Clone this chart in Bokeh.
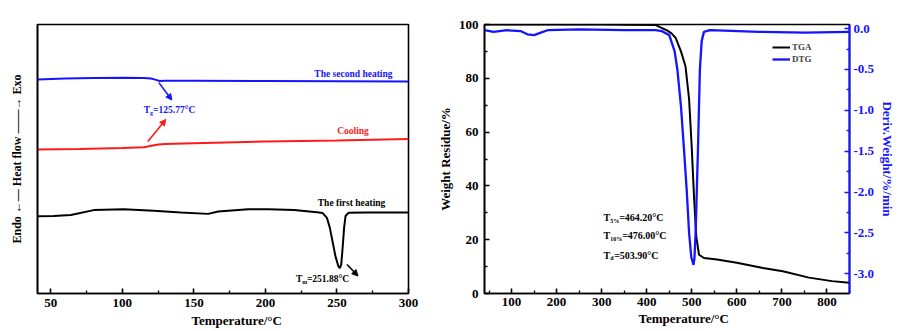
from bokeh.plotting import figure
from bokeh.layouts import row
from bokeh.models import (Range1d, LinearAxis, FixedTicker, Label, Arrow, NormalHead,
                          Legend, LegendItem, NumeralTickFormatter, Title)
from bokeh.embed import file_html
from bokeh.resources import INLINE

SERIF = "Liberation Serif"
BLUE = "#1414ff"
RED = "#ff1a1a"

# ---------------- DSC (left panel) ----------------
second_T = [40.7, 60, 80, 100, 115, 120, 123, 126, 130, 150, 200, 250, 300]
second_hf = [7.96, 7.99, 8.01, 8.02, 8.01, 7.99, 7.95, 7.90, 7.91, 7.91, 7.90, 7.89, 7.88]

cool_T = [40.7, 70, 100, 115, 125, 130, 150, 200, 250, 300]
cool_hf = [5.35, 5.37, 5.41, 5.44, 5.54, 5.56, 5.59, 5.65, 5.69, 5.74]

first_T = [40.7, 52, 64, 80, 101, 122, 141, 160, 167, 188, 202, 220, 236, 240, 243, 245,
           247, 249, 251, 252, 253, 254, 255, 256, 258, 270, 300]
first_hf = [2.87, 2.88, 2.92, 3.10, 3.13, 3.08, 3.01, 2.96, 3.05, 3.13, 3.13, 3.10, 3.02, 2.99,
            2.81, 2.45, 1.91, 1.37, 1.01, 0.94, 1.08, 1.73, 2.45, 2.88, 3.00, 3.01, 3.01]

dsc_major = [50, 100, 150, 200, 250, 300]
dsc_minor = [75, 125, 175, 225, 275]

# ---------------- TGA / DTG (right panel) ----------------
tga_T = [40, 300, 420, 432, 445, 455, 464.2, 476, 486, 494, 500, 505, 510,
         516, 527, 556, 600, 658, 702, 760, 811, 850]
tga_w = [100, 100, 99.8, 98.8, 97.8, 96.7, 95.0, 90.0, 84.5, 72.3, 54.0,
         35.8, 21.1, 14.4, 13.2, 12.6, 11.4, 9.5, 8.3, 5.9, 4.6, 4.0]

dtg_T = [40, 60, 90, 120, 135, 150, 165, 180, 250, 350, 420, 433, 450, 462, 468, 476, 483,
         489, 494, 499, 503.9, 506, 508.5, 513.6, 518, 522, 527, 540, 650, 750, 850]
dtg_v = [-0.02, -0.04, -0.02, -0.03, -0.07, -0.08, -0.05, -0.02, -0.01, -0.02, -0.02, -0.03,
         -0.08, -0.28, -0.50, -0.95, -1.50, -2.00, -2.50, -2.80, -2.89, -2.80, -2.50, -1.50,
         -0.50, -0.15, -0.04, -0.02, -0.04, -0.05, -0.04]

tg_major = [100, 200, 300, 400, 500, 600, 700, 800]
tg_minor = [50, 150, 250, 350, 450, 550, 650, 750, 850]
w_major = [0, 20, 40, 60, 80, 100]
w_minor = [10, 30, 50, 70, 90]
d_major = [0.0, -0.5, -1.0, -1.5, -2.0, -2.5, -3.0]
d_minor = [-0.25, -0.75, -1.25, -1.75, -2.25, -2.75]


def style_axis(ax, color="black", size="13px"):
    ax.axis_line_color = color
    ax.axis_line_width = 1.6
    ax.major_tick_line_color = color
    ax.major_tick_line_width = 1.6
    ax.minor_tick_line_color = color
    ax.minor_tick_line_width = 1.3
    ax.major_tick_in = 5
    ax.major_tick_out = 0
    ax.minor_tick_in = 3
    ax.minor_tick_out = 0
    ax.major_label_text_font = SERIF
    ax.major_label_text_font_style = "bold"
    ax.major_label_text_font_size = size
    ax.major_label_text_color = color
    ax.axis_label_text_font = SERIF
    ax.axis_label_text_font_style = "bold"
    ax.axis_label_text_font_size = "13px"
    ax.axis_label_text_color = color


def txt(p, x, y, text, size, color="black", align="left", baseline="middle",
        x_off=0, y_off=0):
    lab = Label(x=x, y=y, text=text, text_font=SERIF, text_font_size=size,
                text_color=color, text_align=align, text_baseline=baseline,
                x_offset=x_off, y_offset=y_off, text_font_style="bold")
    p.add_layout(lab)
    return lab


def x_title(p, text, offset, standoff):
    t = Title(text=text, align="left", offset=offset, standoff=standoff,
              text_font=SERIF, text_font_style="bold", text_font_size="13px",
              text_color="black")
    p.add_layout(t, "below")


# ================= Left figure =================
p1 = figure(width=420, height=331, x_range=Range1d(40.7, 300), y_range=Range1d(0, 10),
            output_backend="svg", toolbar_location=None,
            min_border_left=37, min_border_right=12, min_border_top=15, min_border_bottom=38)
p1.grid.visible = False
p1.outline_line_color = "black"
p1.outline_line_width = 1.6

style_axis(p1.xaxis[0])
p1.xaxis[0].ticker = FixedTicker(ticks=dsc_major, minor_ticks=dsc_minor)
p1.xaxis[0].major_label_standoff = 5
style_axis(p1.yaxis[0])
p1.yaxis[0].ticker = FixedTicker(ticks=[])
p1.yaxis[0].major_label_standoff = 0
p1.yaxis[0].axis_label = "Endo \u2190\u2014 Heat flow \u2014\u2014\u2192 Exo"
p1.yaxis[0].axis_label_text_font_size = "12px"
p1.yaxis[0].axis_label_standoff = 14
x_title(p1, "Temperature/\u00b0C", 154, 2)

p1.line(second_T, second_hf, line_color=BLUE, line_width=2)
p1.line(cool_T, cool_hf, line_color=RED, line_width=2)
p1.line(first_T, first_hf, line_color="black", line_width=2)

txt(p1, 261.5, 8.17, "The second heating", "9.5px", BLUE, align="center")
txt(p1, 261.2, 6.04, "Cooling", "9.5px", RED, align="center")
txt(p1, 260.2, 3.35, "The first heating", "9.5px", "black", align="center")

# T_g label
txt(p1, 115, 6.83, "T", "9.5px", BLUE)
txt(p1, 115, 6.83, "g", "6px", BLUE, x_off=6.3, y_off=-3)
txt(p1, 115, 6.83, "=125.77\u00b0C", "9.5px", BLUE, x_off=9.3)
# T_m label
txt(p1, 221.3, 0.54, "T", "9.5px", "black")
txt(p1, 221.3, 0.54, "m", "6px", "black", x_off=6.3, y_off=-3)
txt(p1, 221.3, 0.54, "=251.88\u00b0C", "9.5px", "black", x_off=11)

p1.add_layout(Arrow(end=NormalHead(size=6, fill_color=BLUE, line_color=BLUE),
                    x_start=125.5, y_start=7.84, x_end=134.6, y_end=7.19,
                    line_color=BLUE, line_width=1.6))
p1.add_layout(Arrow(end=NormalHead(size=6, fill_color=RED, line_color=RED),
                    x_start=117.8, y_start=5.65, x_end=130.4, y_end=6.47,
                    line_color=RED, line_width=1.6))
p1.add_layout(Arrow(end=NormalHead(size=6, fill_color="black", line_color="black"),
                    x_start=257, y_start=1.08, x_end=264.7, y_end=0.65,
                    line_color="black", line_width=1.6))

# ================= Right figure =================
p2 = figure(width=478, height=331, x_range=Range1d(40, 850), y_range=Range1d(0, 100),
            output_backend="svg", toolbar_location=None,
            min_border_left=64, min_border_right=44, min_border_top=24, min_border_bottom=33)
p2.grid.visible = False
p2.outline_line_color = "black"
p2.outline_line_width = 1.6
p2.extra_y_ranges = {"dtg": Range1d(-3.24, 0.05)}

style_axis(p2.xaxis[0])
p2.xaxis[0].ticker = FixedTicker(ticks=tg_major, minor_ticks=tg_minor)
p2.xaxis[0].major_label_standoff = 4
style_axis(p2.yaxis[0])
p2.yaxis[0].ticker = FixedTicker(ticks=w_major, minor_ticks=w_minor)
p2.yaxis[0].axis_label = "Weight Residue/%"
p2.yaxis[0].major_label_standoff = 6
p2.yaxis[0].axis_label_standoff = 3
x_title(p2, "Temperature/\u00b0C", 154, 0)

rax = LinearAxis(y_range_name="dtg", ticker=FixedTicker(ticks=d_major, minor_ticks=d_minor),
                 formatter=NumeralTickFormatter(format="0.0"))
style_axis(rax, BLUE)
rax.axis_line_width = 2
rax.major_label_standoff = 4
rax.axis_label = "Deriv.Weight/%/min"
rax.axis_label_standoff = 3
p2.add_layout(rax, "right")

r_tga = p2.line(tga_T, tga_w, line_color="black", line_width=2)
r_dtg = p2.line(dtg_T, dtg_v, y_range_name="dtg", line_color=BLUE, line_width=2.3)

legend = Legend(items=[LegendItem(label="TGA", renderers=[r_tga]),
                       LegendItem(label="DTG", renderers=[r_dtg])],
                location=(288, 229), orientation="vertical",
                label_text_font=SERIF, label_text_font_style="bold",
                label_text_font_size="9px", glyph_width=18, glyph_height=10,
                label_height=10, spacing=2, padding=0, margin=0, label_standoff=2,
                border_line_color=None, background_fill_alpha=0)
p2.add_layout(legend)

# temperature annotations
for yv, sub, rest, off in [(28.2, "5%", "=464.20\u00b0C", 9),
                           (21.4, "10%", "=476.00\u00b0C", 12),
                           (14.2, "d", " =503.90\u00b0C", 4)]:
    txt(p2, 304, yv, "T", "10px", "black")
    txt(p2, 304, yv, sub, "6px", "black", x_off=6.7, y_off=-3)
    txt(p2, 304, yv, rest, "10px", "black", x_off=6.7 + off)

layout = row(p1, p2)
open("out.html", "w").write(file_html(layout, INLINE))
